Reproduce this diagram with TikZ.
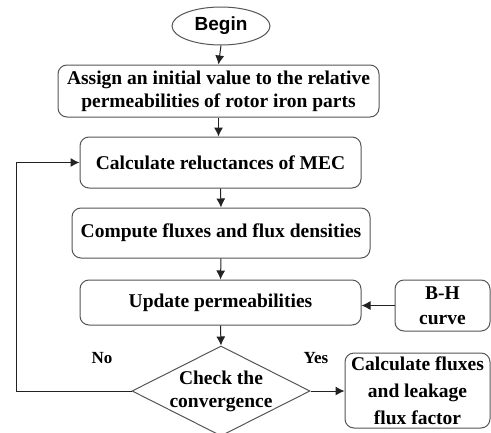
\documentclass[tikz,border=0pt]{standalone}
\usepackage{fontspec}
\setmainfont{Liberation Serif}
\newfontfamily\beginfont{Liberation Sans}
\usetikzlibrary{shapes.geometric,arrows.meta}
\definecolor{boxline}{HTML}{555555}
\definecolor{conline}{HTML}{222222}
\tikzset{
  procbox/.style={draw=boxline, line width=1pt, rounded corners=9pt, inner sep=0pt,
    align=center, font=\bfseries\fontsize{19.5}{23}\selectfont},
  startnode/.style={draw=boxline, line width=1pt, ellipse, inner sep=0pt,
    font=\beginfont\bfseries\fontsize{19}{23}\selectfont},
  decnode/.style={draw=boxline, line width=1pt, diamond, inner sep=0pt},
  txt/.style={align=center, inner sep=0pt, font=\bfseries\fontsize{19.5}{23}\selectfont},
  lbl/.style={inner sep=0pt, font=\bfseries\fontsize{17}{20}\selectfont},
  conn/.style={draw=conline, line width=1pt, -{Latex[length=9pt,width=9pt]}},
}
\begin{document}
\begin{tikzpicture}[x=1pt,y=-1pt]
\useasboundingbox (0,0) rectangle (491,432);
\node[startnode, minimum width=98pt, minimum height=38pt] (begin) at (221,26) {Begin};
\node[procbox, minimum width=321pt, minimum height=52pt] (assign) at (218.5,91) {Assign an initial value to the relative\\permeabilities of rotor iron parts};
\node[procbox, minimum width=281pt, minimum height=51pt] (calc) at (220.5,162.5) {Calculate reluctances of MEC};
\node[procbox, minimum width=298pt, minimum height=50pt] (comp) at (221,233) {Compute fluxes and flux densities};
\node[procbox, minimum width=281pt, minimum height=45pt] (upd) at (220.5,302.5) {Update permeabilities};
\node[procbox, minimum width=95pt, minimum height=51pt, font=\bfseries\fontsize{19.5}{25}\selectfont] (bh) at (442.5,305.5) {B-H\\curve};
\node[decnode, minimum width=178pt, minimum height=90pt] (chk) at (221,391) {};
\node[txt] (chktxt) at (221,391) {Check the\\convergence};
\node[procbox, minimum width=145pt, minimum height=75pt, font=\bfseries\fontsize{19.5}{27}\selectfont] (out) at (417.5,390.5) {Calculate fluxes\\and leakage\\flux factor};
\node[lbl] (no) at (102,358) {No};
\node[lbl] (yes) at (316,358) {Yes};
\coordinate (fb1) at (16.5,391);
\coordinate (fb2) at (16.5,162.5);
\draw[conn] (begin.south) -- (assign.north);
\draw[conn] (assign.south) -- (calc.north -| assign.south);
\draw[conn] (calc.south) -- (comp.north);
\draw[conn] (comp.south) -- (upd.north);
\draw[conn] (upd.south) -- (chk.north);
\draw[conn] (bh.west) -- (upd.east |- bh.west);
\draw[conn] (chk.east) -- (out.west |- chk.east);
\draw[conn] (chk.west) -- (fb1) -- (fb2) -- (calc.west);
\end{tikzpicture}
\end{document}
